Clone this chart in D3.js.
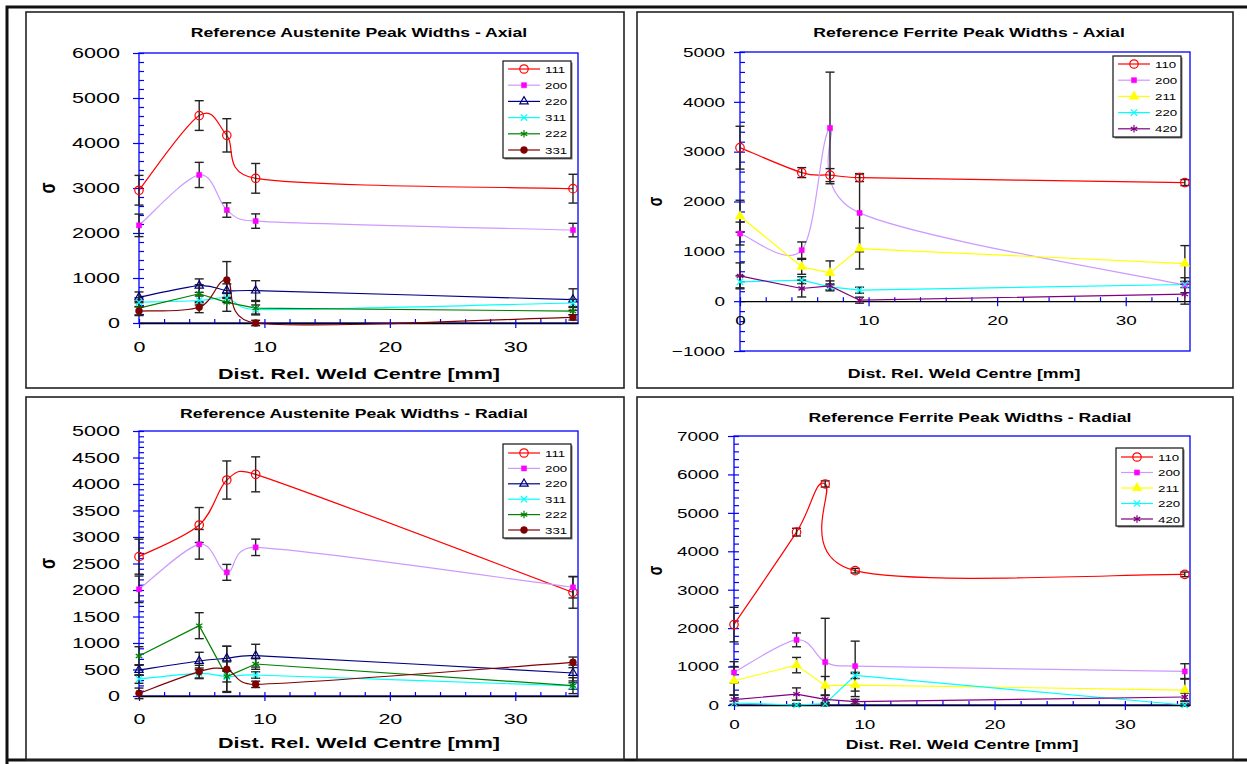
<!DOCTYPE html>
<html>
<head>
<meta charset="utf-8">
<script src="https://cdn.jsdelivr.net/npm/d3@7"></script>
<style>
  body { margin: 0; background: #fff; }
  svg { display: block; font-family: "Liberation Sans", Arial, sans-serif; }
</style>
</head>
<body>
<script>
'use strict';

// distance from the weld centre [mm], same positions in all four plots
let dist = [0, 4.8, 7, 9.3, 34.6];
let xTicks = [0, 10, 20, 30];

// austenite peaks
let ausLabels = ['111', '200', '220', '311', '222', '331'];
let ausAxial = [
  [2950, 4610, 4170, 3215, 2985],
  [2170, 3290, 2510, 2265, 2065],
  [570, 830, 720, 720, 520],
  [460, 500, 555, 300, 445],
  [330, 650, 460, 330, 265],
  [265, 350, 955, 0, 125]
];
let ausAxialErr = [
  [330, 330, 370, 330, 320],
  [250, 280, 160, 160, 150],
  [120, 150, 150, 220, 240],
  [100, 100, 100, 100, 80],
  [150, 200, 200, 150, 80],
  [100, 120, 410, 60, 60]
];
let ausRadial = [
  [2629, 3226, 4075, 4182, 1956],
  [2013, 2862, 2333, 2805, 2050],
  [490, 660, 710, 761, 434],
  [320, 428, 365, 396, 189],
  [755, 1327, 365, 604, 195],
  [50, 459, 503, 220, 635]
];
let ausRadialErr = [
  [330, 330, 360, 330, 300],
  [250, 280, 150, 155, 200],
  [100, 165, 230, 215, 150],
  [80, 100, 100, 60, 60],
  [175, 245, 280, 100, 150],
  [100, 120, 435, 60, 100]
];

// ferrite peaks
let ferLabels = ['110', '200', '211', '220', '420'];
let ferAxial = [
  [3080, 2580, 2530, 2480, 2380],
  [1357, 1023, 3476, 1771, 320],
  [1705, 689, 568, 1056, 755],
  [388, 421, 287, 220, 334],
  [508, 254, 307, 20, 140]
];
let ferAxialErr = [
  [430, 100, 130, 80, 60],
  [230, 165, 1120, 780, 150],
  [320, 150, 240, 410, 360],
  [120, 70, 60, 60, 60],
  [260, 170, 100, 60, 200]
];
let ferRadial = [
  [2093, 4498, 5752, 3495, 3400],
  [848, 1695, 1116, 1012, 874],
  [631, 1038, 502, 519, 389],
  [52, 0, 35, 770, 0],
  [138, 285, 147, 87, 208]
];
let ferRadialErr = [
  [450, 100, 80, 60, 60],
  [280, 180, 1140, 650, 200],
  [370, 200, 240, 300, 300],
  [50, 30, 30, 80, 30],
  [120, 160, 100, 60, 100]
];

// the source picture is stretched sideways, so text is too
const K = 1.4;

// smoothed line like a spreadsheet's: cardinal bezier, control arms kept
// shorter than the segment so short segments don't loop
function SmoothCurve(context) { this._context = context; }
SmoothCurve.prototype = {
  areaStart() {}, areaEnd() {},
  lineStart() { this._pts = []; },
  point(x, y) { this._pts.push([+x, +y]); },
  lineEnd() {
    let p = this._pts, c = this._context, n = p.length;
    if (!n) return;
    c.moveTo(p[0][0], p[0][1]);
    let arm = (a, b, lim) => {
      let dx = (b[0] - a[0]) / 6, dy = (b[1] - a[1]) / 6, l = Math.hypot(dx, dy);
      let s = l > lim ? lim / l : 1;
      return [dx * s, dy * s];
    };
    for (let i = 0; i < n - 1; i++) {
      let p0 = p[Math.max(i - 1, 0)], p1 = p[i], p2 = p[i + 1], p3 = p[Math.min(i + 2, n - 1)];
      let lim = 0.66 * Math.hypot(p2[0] - p1[0], p2[1] - p1[1]);
      let a = arm(p0, p2, lim), b = arm(p1, p3, lim);
      c.bezierCurveTo(p1[0] + a[0], p1[1] + a[1], p2[0] - b[0], p2[1] - b[1], p2[0], p2[1]);
    }
  }
};
let curveSmooth = ctx => new SmoothCurve(ctx);

// marker shapes
let symX = { draw(c, s) { let r = Math.sqrt(s) / 2; c.moveTo(-r, -r); c.lineTo(r, r); c.moveTo(r, -r); c.lineTo(-r, r); } };
let symStar = { draw(c, s) {
  let r = Math.sqrt(s) / 2;
  c.moveTo(0, -r); c.lineTo(0, r);
  let a = r * Math.cos(Math.PI / 6), b = r / 2;
  c.moveTo(-a, -b); c.lineTo(a, b); c.moveTo(-a, b); c.lineTo(a, -b);
} };

let ausLook = [
  { line: '#ff0000', mark: '#ff0000', sym: d3.symbolCircle, size: 56, fill: false, smooth: true },
  { line: '#cc99ff', mark: '#ff00ff', sym: d3.symbolSquare, size: 26, fill: true, smooth: true },
  { line: '#000080', mark: '#000080', sym: d3.symbolTriangle, size: 30, fill: false, smooth: true },
  { line: '#00ffff', mark: '#00ffff', sym: symX, size: 40, fill: false, smooth: true },
  { line: '#008000', mark: '#008000', sym: symStar, size: 56, fill: false, smooth: false },
  { line: '#800000', mark: '#800000', sym: d3.symbolCircle, size: 38, fill: true, smooth: true }
];
let ferLook = [
  { line: '#ff0000', mark: '#ff0000', sym: d3.symbolCircle, size: 56, fill: false, smooth: true },
  { line: '#cc99ff', mark: '#ff00ff', sym: d3.symbolSquare, size: 26, fill: true, smooth: true },
  { line: '#ffff00', mark: '#ffff00', sym: d3.symbolTriangle, size: 40, fill: true, smooth: false },
  { line: '#00ffff', mark: '#00ffff', sym: symX, size: 40, fill: false, smooth: false },
  { line: '#800080', mark: '#800080', sym: symStar, size: 56, fill: false, smooth: false }
];

let svg = d3.select('body').append('svg').attr('width', 1247).attr('height', 764);

// outer frame (left, top, bottom)
svg.append('path').attr('d', 'M7,764 V7 H1247 M7,760 H1247')
  .attr('fill', 'none').attr('stroke', '#111').attr('stroke-width', 3);

function stretchText(g, x, y, txt, size, bold, anchor) {
  return g.append('text')
    .attr('transform', `translate(${x},${y}) scale(${K},1)`)
    .attr('text-anchor', anchor || 'middle')
    .attr('font-size', size)
    .attr('font-weight', bold ? 'bold' : 'normal')
    .text(txt);
}

function panel(p) {
  let g = svg.append('g');
  g.append('rect').attr('x', p.box[0]).attr('y', p.box[1])
    .attr('width', p.box[2] - p.box[0]).attr('height', p.box[3] - p.box[1])
    .attr('fill', 'none').attr('stroke', '#222').attr('stroke-width', 1.6);

  let x = d3.scaleLinear().domain([0, 35]).range([p.left, p.right]);
  let y = d3.scaleLinear().domain(p.yDomain).range([p.bottom, p.top]);

  g.append('rect').attr('x', p.left).attr('y', p.top)
    .attr('width', p.right - p.left).attr('height', p.bottom - p.top)
    .attr('fill', 'none').attr('stroke', '#0000ff').attr('stroke-width', 1.3);

  // y axis: minor ticks inside, major ticks outside with labels
  let yMajor = d3.range(p.yDomain[0], p.yDomain[1] + 1, p.yStep);
  let yMinor = d3.range(p.yDomain[0], p.yDomain[1] + 1, p.yMinor);
  g.append('g').attr('transform', `translate(${p.left},0)`)
    .call(d3.axisLeft(y).tickValues(yMinor).tickSize(-5).tickFormat(''))
    .call(a => a.select('.domain').remove());
  g.append('g').attr('transform', `translate(${p.left},0)`)
    .call(d3.axisLeft(y).tickValues(yMajor).tickSize(6).tickFormat(d3.format('d')))
    .call(a => a.select('.domain').remove())
    .call(a => a.selectAll('text').attr('x', -p.yGap / K).attr('transform', `scale(${K},1)`)
      .attr('font-size', p.tickFont).attr('font-family', null).attr('fill', '#000'));

  // x axis at y = 0
  let y0 = y(0);
  g.append('g').attr('transform', `translate(0,${y0})`)
    .call(d3.axisBottom(x).tickValues(d3.range(0, 35, 2)).tickSize(-4).tickSizeOuter(0).tickFormat(''))
    .call(a => a.select('.domain').attr('stroke-width', 1.3));
  g.append('g').attr('transform', `translate(0,${y0})`)
    .call(d3.axisBottom(x).tickValues(xTicks).tickSize(5).tickFormat(d3.format('d')))
    .call(a => a.select('.domain').remove())
    .call(a => a.selectAll('text').attr('y', p.xGap).attr('dy', 0).attr('transform', `scale(${K},1)`)
      .attr('font-size', p.tickFont).attr('font-family', null).attr('fill', '#000'));
  g.selectAll('.tick line').attr('stroke', '#0000ff').attr('stroke-width', 1.2);

  // titles
  stretchText(g, p.titleX, p.titleY, p.title, 12.6, true);
  stretchText(g, p.xTitleX, p.xTitleY, 'Dist. Rel. Weld Centre [mm]', p.xTitleFont, true);
  g.append('text')
    .attr('transform', `translate(${p.sigmaX},${(p.top + p.bottom) / 2}) scale(${K},1) rotate(-90)`)
    .attr('text-anchor', 'middle').attr('dy', '0.35em')
    .attr('font-size', p.sigmaFont).attr('font-weight', 'bold').text('σ');

  // series
  p.vals.forEach((vals, i) => {
    let lk = p.look[i];
    let pts = vals.map((v, j) => [dist[j], v]);
    let line = d3.line().x(d => x(d[0])).y(d => y(d[1]))
      .curve(lk.smooth ? curveSmooth : d3.curveLinear);
    g.append('path').datum(pts).attr('fill', 'none').attr('stroke', lk.line)
      .attr('stroke-width', 1.2).attr('d', line);
  });

  p.vals.forEach((vals, i) => {
    vals.forEach((v, j) => {
      let e = p.errs[i][j], cx = x(dist[j]);
      let bar = g.append('g').attr('stroke', '#222').attr('stroke-width', 1.4);
      bar.append('line').attr('x1', cx).attr('x2', cx).attr('y1', y(v - e)).attr('y2', y(v + e));
      bar.append('line').attr('x1', cx - 4.5).attr('x2', cx + 4.5).attr('y1', y(v - e)).attr('y2', y(v - e));
      bar.append('line').attr('x1', cx - 4.5).attr('x2', cx + 4.5).attr('y1', y(v + e)).attr('y2', y(v + e));
    });
  });

  function marker(sel, lk) {
    sel.attr('d', d3.symbol().type(lk.sym).size(lk.size))
      .attr('fill', lk.fill ? lk.mark : 'none')
      .attr('stroke', lk.mark).attr('stroke-width', lk.fill ? 0.5 : 1.2);
  }

  p.vals.forEach((vals, i) => {
    g.selectAll(null).data(vals).enter().append('path')
      .attr('transform', (v, j) => `translate(${x(dist[j])},${y(v)})`)
      .call(marker, p.look[i]);
  });

  // legend
  let L = p.legend;
  g.append('rect').attr('x', L.x + 1.5).attr('y', L.y + 1.5).attr('width', L.w).attr('height', L.h)
    .attr('fill', '#777');
  g.append('rect').attr('x', L.x).attr('y', L.y).attr('width', L.w).attr('height', L.h)
    .attr('fill', '#fff').attr('stroke', '#111').attr('stroke-width', 1.2);
  p.labels.forEach((lab, i) => {
    let ry = L.row0 + i * L.step, lk = p.look[i];
    g.append('line').attr('x1', L.x + 5).attr('x2', L.x + 37).attr('y1', ry).attr('y2', ry)
      .attr('stroke', lk.line).attr('stroke-width', 1.2);
    g.append('path').attr('transform', `translate(${L.x + 21},${ry})`).call(marker, lk);
    stretchText(g, L.x + 42, ry + 3.5, lab, 9.5, false, 'start');
  });
}

panel({
  box: [26, 12, 624, 388], left: 139, right: 578, top: 53, bottom: 323,
  yDomain: [0, 6000], yStep: 1000, yMinor: 200, yGap: 19, xGap: 29, tickFont: 15.4,
  title: 'Reference Austenite Peak Widths - Axial', titleX: 359, titleY: 37,
  xTitleX: 359, xTitleY: 379, xTitleFont: 15.4, sigmaX: 47, sigmaFont: 16,
  vals: ausAxial, errs: ausAxialErr, look: ausLook, labels: ausLabels,
  legend: { x: 503, y: 61, w: 68, h: 97, row0: 69, step: 16.2 }
});
panel({
  box: [637, 12, 1233, 388], left: 740, right: 1190, top: 52, bottom: 351,
  yDomain: [-1000, 5000], yStep: 1000, yMinor: 200, yGap: 15, xGap: 24, tickFont: 13.5,
  title: 'Reference Ferrite Peak Widths - Axial', titleX: 969, titleY: 37,
  xTitleX: 964, xTitleY: 378, xTitleFont: 12.7, sigmaX: 655, sigmaFont: 14,
  vals: ferAxial, errs: ferAxialErr, look: ferLook, labels: ferLabels,
  legend: { x: 1113, y: 56, w: 68, h: 81, row0: 64, step: 16.2 }
});
panel({
  box: [26, 397, 624, 760], left: 139, right: 578, top: 431, bottom: 696,
  yDomain: [0, 5000], yStep: 500, yMinor: 100, yGap: 19, xGap: 28, tickFont: 15.4,
  title: 'Reference Austenite Peak Widths - Radial', titleX: 354, titleY: 418,
  xTitleX: 359, xTitleY: 748, xTitleFont: 15.4, sigmaX: 47, sigmaFont: 16,
  vals: ausRadial, errs: ausRadialErr, look: ausLook, labels: ausLabels,
  legend: { x: 503, y: 444, w: 68, h: 94, row0: 453, step: 15.4 }
});
panel({
  box: [637, 397, 1233, 760], left: 734, right: 1190, top: 436, bottom: 705,
  yDomain: [0, 7000], yStep: 1000, yMinor: 200, yGap: 15, xGap: 24, tickFont: 13.5,
  title: 'Reference Ferrite Peak Widths - Radial', titleX: 970, titleY: 422,
  xTitleX: 962, xTitleY: 749, xTitleFont: 12.7, sigmaX: 655, sigmaFont: 14,
  vals: ferRadial, errs: ferRadialErr, look: ferLook, labels: ferLabels,
  legend: { x: 1116, y: 448, w: 67, h: 78, row0: 457, step: 15.5 }
});
</script>
</body>
</html>
